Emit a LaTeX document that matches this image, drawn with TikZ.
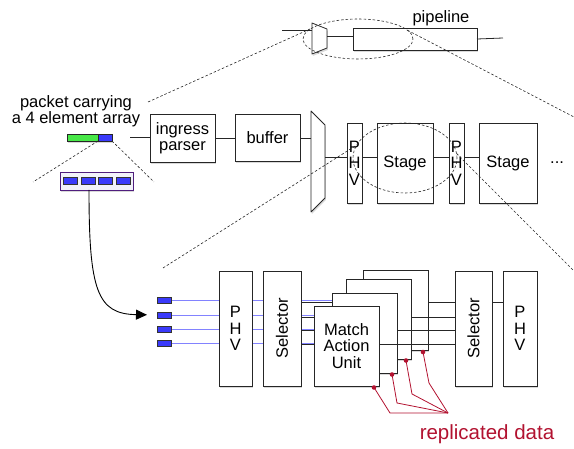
\documentclass[tikz,border=0pt]{standalone}
\usepackage{fontspec}
\setmainfont{Liberation Sans}
\usetikzlibrary{shapes.geometric, arrows.meta, positioning, calc, backgrounds, shadows}
\definecolor{cellBlue}{RGB}{58, 58, 250}
\definecolor{wireBlue}{RGB}{130, 130, 255}
\definecolor{pktGreen}{RGB}{72, 232, 72}
\definecolor{arrPurple}{RGB}{80, 30, 125}
\definecolor{arrFill}{RGB}{242, 242, 250}
\definecolor{repRed}{RGB}{178, 18, 48}
\tikzset{
    font=\fontsize{16.5}{16.5}\selectfont,
    %
    % 方框（带阴影）
    blk/.style={
        rectangle, draw=black!85, fill=white, line width=0.8pt,
        inner sep=0pt, outer sep=0pt, align=center,
        drop shadow={opacity=0.3, shadow xshift=0.8pt, shadow yshift=-2pt}
    },
    % 选择器外框，占位用
    muxbox/.style={rectangle, inner sep=0pt, outer sep=0pt},
    muxline/.style={
        draw=black!85, fill=white, line width=0.8pt, line join=round,
        drop shadow={opacity=0.3, shadow xshift=0.8pt, shadow yshift=-2pt}
    },
    %
    % 数据格
    cell/.style={
        rectangle, draw=black!80, fill=cellBlue, line width=0.7pt,
        minimum width=14, minimum height=7, inner sep=0pt, outer sep=0pt
    },
    %
    % 连线
    wire/.style={draw=black!85, line width=0.8pt},
    bluewire/.style={draw=wireBlue, line width=0.9pt},
    repline/.style={draw=repRed, line width=0.8pt},
    bigarrow/.style={draw=black, line width=0.9pt, -{Triangle[length=11pt, width=10pt]}},
    %
    % 放大镜（虚线）
    zoomline/.style={draw=black!85, line width=0.6pt, dash pattern=on 2.5pt off 2pt},
    lens/.style={ellipse, zoomline, inner sep=0pt, outer sep=0pt}
}

\begin{document}
\begin{tikzpicture}[x=1pt, y=-1pt]
	\useasboundingbox (0,0) rectangle (574,449);

	%% 顶部：流水线概览
	\node[muxbox, minimum width=15, minimum height=31] (muxA) at (319.5,38.5) {};
	\draw[muxline] (muxA.north west) -- ([yshift=-6pt]muxA.north east)
		-- ([yshift=6pt]muxA.south east) -- (muxA.south west) -- cycle;
	\node[blk, minimum width=124, minimum height=22] (pipe) at (415,39) {};
	\node (pipelbl) at (441,18) {pipeline};
	\coordinate (pipein) at (282,30);
	\coordinate (pipeout) at (503,38);
	\draw[wire] (pipein) -- (pipein -| muxA.west);
	\draw[wire] ([yshift=2.5pt]muxA.east) -- ([yshift=2.5pt]muxA.east -| pipe.west);
	\draw[wire] (pipe.east) -- (pipeout);

	%% 中部：数据包、解析器、缓冲区与各级 Stage
	\node[align=center] (pktlbl) at (76,111) {packet carrying\\a 4 element array};
	\node[blk, fill=pktGreen, drop shadow={opacity=0}, minimum width=31, minimum height=7] (pkt) at (82.5,137.5) {};
	\node[blk, fill=cellBlue, drop shadow={opacity=0}, minimum width=14, minimum height=7, right=0pt of pkt] (pkthd) {};
	\node[blk, draw=arrPurple, fill=arrFill, minimum width=73, minimum height=18] (arr) at (96.5,181) {};
	\foreach \i in {1,...,4}
		\node[cell] (e\i) at (52.5+17.7*\i,181) {};

	\node[blk, minimum width=65, minimum height=48] (ingress) at (182.5,138) {ingress\\parser};
	\node[blk, minimum width=65, minimum height=47, right=20pt of ingress] (buffer) {buffer};
	\node[muxbox, minimum width=14, minimum height=101] (muxB) at (318,161.5) {};
	\draw[muxline] (muxB.north west) -- ([yshift=-14pt]muxB.north east)
		-- ([yshift=14pt]muxB.south east) -- (muxB.south west) -- cycle;
	\node[blk, minimum width=15, minimum height=80] (phvA) at (354.5,163) {P\\H\\V};
	\node[blk, minimum width=56, minimum height=80, right=15pt of phvA] (stageA) {Stage};
	\node[blk, minimum width=15, minimum height=80, right=16pt of stageA] (phvB) {P\\H\\V};
	\node[blk, minimum width=58, minimum height=80, right=15pt of phvB] (stageB) {Stage};
	\node[inner sep=0pt, right=13pt of stageB] (more) {...};

	\coordinate (pktin) at (130,137);
	\draw[wire] (pktin) -- (pktin -| ingress.west);
	\draw[wire] (ingress.east) -- (ingress.east -| buffer.west);
	\draw[wire] (buffer.east) -- (buffer.east -| muxB.west);
	\draw[wire] ([yshift=4.5pt]muxB.east) -- ([yshift=4.5pt]muxB.east -| phvA.west);
	\foreach \a/\b in {phvA/stageA, stageA/phvB, phvB/stageB}
		\draw[wire] ([yshift=6pt]\a.east) -- ([yshift=6pt]\a.east -| \b.west);

	%% 底部：Stage 内部展开
	\foreach \y [count=\i] in {300,315,329,343}
		\node[cell, minimum height=6] (c\i) at (164,\y) {};
	\node[blk, minimum width=33, minimum height=115] (phvL) at (235.5,328.5) {P\\H\\V};
	\node[blk, minimum width=38, minimum height=115, right=11pt of phvL,
		label={[rotate=90]center:Selector}] (selL) {};
	\node[blk, minimum width=37, minimum height=115,
		label={[rotate=90]center:Selector}] (selR) at (473.5,328.5) {};
	\node[blk, minimum width=34, minimum height=115, right=11pt of selR] (phvR) {P\\H\\V};
	\draw[wire] ([yshift=26.5pt]selR.east) -- ([yshift=26.5pt]selR.east -| phvR.west);

	% 四份 Match Action Unit，由后往前画，每份一条穿过的线
	\foreach \n/\pos/\dy/\txt in {D/{395.5,310.5}/26.5/{}, C/{378.5,319}/11.5/{},
		B/{364.5,333}/-1.5/{}, A/{346.5,346}/-15.5/{Match\\Action\\Unit}} {
		\draw[wire] ([yshift=\dy pt]selL.east) -- ([yshift=\dy pt]selR.west);
		\node[blk, minimum width=65, minimum height=80] (mau\n) at (\pos) {\txt};
	}

	\begin{scope}[on background layer]
		\foreach \i in {1,...,4}
			\draw[bluewire] (c\i.east) -- (c\i.east -| phvL.west)
				(c\i.east -| phvL.east) -- (c\i.east -| selL.west)
				(c\i.east -| selL.east) -- (c\i.east -| mauA.center);
	\end{scope}

	\draw[bigarrow, shorten >=10pt] ([xshift=-7.5pt]arr.south) .. controls +(0,100) and +(-60,-1) .. (c2.west);

	% 复制的数据
	\coordinate (rep) at (448,413);
	\foreach \n/\bend in {A/{390,413}, B/{397,403}, C/{412,394}, D/{429,383}} {
		\fill[repRed] ([shift={(-5pt,-1.5pt)}]mau\n.south east) circle[radius=2.3pt];
		\draw[repline] ([shift={(-5pt,-1.5pt)}]mau\n.south east) -- (\bend) -- (rep);
	}
	\node[text=repRed, font=\fontsize{20.5}{22}\selectfont] (repl) at (487,434) {replicated data};

	% 放大镜虚线
	\node[lens, minimum width=110, minimum height=40] (lensA) at (358,39) {};
	\node[lens, minimum width=104, minimum height=70] (lensB) at (405,158) {};
	\coordinate (zA1) at (148,102);
	\coordinate (zA2) at (574,117);
	\coordinate (zB1) at (163,268);
	\coordinate (zB2) at (574,271);
	\coordinate (zP1) at (33,182);
	\coordinate (zP2) at (154,182);
	\draw[zoomline] (zA1) -- (lensA.167);
	\draw[zoomline] (lensA.10) -- (zA2);
	\draw[zoomline] (zB1) -- (lensB.165);
	\draw[zoomline] (lensB.5) -- (zB2);
	\draw[zoomline] (pkthd.south west) -- (zP1);
	\draw[zoomline] (pkthd.south east) -- (zP2);

\end{tikzpicture}
\end{document}
